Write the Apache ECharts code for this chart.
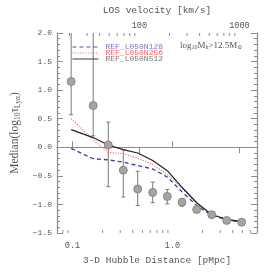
<!DOCTYPE html>
<html><head><meta charset="utf-8">
<script src="https://cdn.jsdelivr.net/npm/echarts@6/dist/echarts.min.js"></script>
<style>html,body{margin:0;padding:0;background:#fff}#c{width:274px;height:272px}</style>
</head><body><div id="c"></div>
<script>
// ---- data ----
const distances   = [0.097, 0.161, 0.228, 0.322, 0.449, 0.634, 0.887, 1.245, 1.746, 2.466, 3.483, 4.92];
const medianVals  = [1.15, 0.73, 0.04, -0.40, -0.73, -0.79, -0.86, -0.96, -1.09, -1.18, -1.28, -1.31];
const errLow      = [0.57, 0.20, -0.69, -0.87, -1.02, -0.97, -0.99, -1.03, -1.13, -1.21, -1.30, -1.33];
const errHigh     = [2.50, 2.50, 0.44, -0.04, -0.42, -0.61, -0.74, -0.90, -1.05, -1.15, -1.26, -1.29];
const lineN128    = [-0.02, -0.20, -0.22, -0.26, -0.32, -0.38, -0.52, -0.78, -1.02, -1.19, -1.27, -1.31];
const lineN256    = [0.50, 0.13, -0.09, -0.11, -0.19, -0.30, -0.47, -0.72, -0.98, -1.17, -1.26, -1.30];
const lineN512    = [0.31, 0.17, 0.04, -0.04, -0.10, -0.23, -0.41, -0.70, -0.97, -1.18, -1.26, -1.30];
const seriesNames = ['REF_L050N128', 'REF_L050N256', 'REF_L050N512'];
const distRange   = [0.07, 7];
const velRange    = [15, 1500];
const yRange      = [-1.5, 2.0];

// ---- styling ----
const frameColor = '#8c8c8c';
const textColor = '#555555';
const mono = '"Liberation Mono", "DejaVu Sans Mono", monospace';
const serif = '"Liberation Serif", "DejaVu Serif", serif';

function minorTicks(lo, hi) {
  const out = [];
  for (let k = Math.floor(Math.log10(lo)); k <= Math.ceil(Math.log10(hi)); k++) {
    for (let m = 2; m <= 9; m++) {
      const v = m * Math.pow(10, k);
      if (v > lo && v < hi) out.push([v, 0]);
    }
  }
  return out;
}

function tickRenderer(side) {
  return function (params, api) {
    const cs = params.coordSys;
    const x = api.coord([api.value(0), 0])[0];
    const len = 3;
    const y1 = side === 'top' ? cs.y : cs.y + cs.height;
    const y2 = side === 'top' ? cs.y + len : cs.y + cs.height - len;
    return { type: 'line', shape: { x1: x, y1: y1, x2: x, y2: y2 },
      style: { stroke: frameColor, lineWidth: 1 } };
  };
}

const chart = echarts.init(document.getElementById('c'), null, { renderer: 'canvas' });

const fmtDist = v => {
  const r = Math.round(v * 1000) / 1000;
  return r >= 1 ? r.toFixed(1) : String(r);
};
const fmtVel = v => String(Math.round(v));

const option = {
  backgroundColor: '#ffffff',
  animation: false,
  grid: { left: 57, top: 33, width: 200, height: 200, containLabel: false },
  xAxis: [
    {
      type: 'log', logBase: 10, min: distRange[0], max: distRange[1], position: 'bottom',
      axisLine: { show: true, lineStyle: { color: frameColor, width: 1.2 } },
      axisTick: { show: true, inside: true, length: 6, lineStyle: { color: frameColor } },
      axisLabel: { formatter: fmtDist, showMinLabel: false, showMaxLabel: false,
        fontFamily: mono, fontSize: 8.5, color: textColor, margin: 8 },
      splitLine: { show: false },
      name: '3-D Hubble Distance [pMpc]', nameLocation: 'middle', nameGap: 22,
      nameTextStyle: { fontFamily: mono, fontSize: 9.5, color: textColor }
    },
    {
      type: 'log', logBase: 10, min: velRange[0], max: velRange[1], position: 'top',
      axisLine: { show: true, lineStyle: { color: frameColor, width: 1.2 } },
      axisTick: { show: true, inside: true, length: 6, lineStyle: { color: frameColor } },
      axisLabel: { formatter: fmtVel, showMinLabel: false, showMaxLabel: false,
        fontFamily: mono, fontSize: 8.5, color: textColor, margin: 3 },
      splitLine: { show: false },
      name: 'LOS velocity [km/s]', nameLocation: 'middle', nameGap: 18,
      nameTextStyle: { fontFamily: mono, fontSize: 9.5, color: textColor }
    }
  ],
  yAxis: [
    {
      type: 'value', min: yRange[0], max: yRange[1], interval: 0.5, position: 'left',
      axisLine: { show: true, lineStyle: { color: frameColor, width: 1.2 } },
      axisTick: { show: true, inside: true, length: 6, lineStyle: { color: frameColor } },
      minorTick: { show: true, splitNumber: 5, length: 3, lineStyle: { color: frameColor } },
      axisLabel: { formatter: v => v.toFixed(1).replace('-', '\u2212'),
        fontFamily: mono, fontSize: 8, color: textColor, margin: 5 },
      splitLine: { show: false }, minorSplitLine: { show: false },
      name: 'Median(log{s|10}\u03c4{s|Ly\u03b1})', nameLocation: 'middle', nameGap: 31, nameRotate: 90,
      nameTextStyle: { fontFamily: serif, fontSize: 11.5, color: textColor,
        rich: { s: { fontFamily: serif, fontSize: 7.5, color: textColor, verticalAlign: 'bottom', padding: [6, 0, 0, 0] } } }
    },
    {
      type: 'value', min: yRange[0], max: yRange[1], interval: 0.5, position: 'right',
      axisLine: { show: true, lineStyle: { color: frameColor, width: 1.2 } },
      axisTick: { show: true, inside: true, length: 6, lineStyle: { color: frameColor } },
      minorTick: { show: true, splitNumber: 5, length: 3, lineStyle: { color: frameColor } },
      axisLabel: { show: false },
      splitLine: { show: false }, minorSplitLine: { show: false }
    }
  ],
  legend: {
    orient: 'vertical', left: 67, top: 38, itemGap: -2, itemWidth: 26, itemHeight: 5,
    itemStyle: { opacity: 0 },
    lineStyle: { width: 0.9 },
    data: [
      { name: seriesNames[0], textStyle: { color: '#7878c8' } },
      { name: seriesNames[1], textStyle: { color: '#ff5a5a' } },
      { name: seriesNames[2], textStyle: { color: '#777777' } }
    ],
    textStyle: { fontFamily: mono, fontSize: 8, lineHeight: 7, padding: [0, 0, 0, 2] },
    selectedMode: false
  },
  graphic: [
    {
      type: 'text', left: 180, top: 41,
      style: {
        text: '{a|log}{s|10}{a|M}{s|h}{a|>12.5M}{s|\u2299}',
        rich: {
          a: { fontFamily: serif, fontSize: 9, fill: textColor },
          s: { fontFamily: serif, fontSize: 6, fill: textColor, padding: [4, 0, 0, 0] }
        }
      }
    }
  ],
  series: [
    { type: 'custom', name: 'minorBottom', xAxisIndex: 0, yAxisIndex: 0, silent: true,
      data: minorTicks(distRange[0], distRange[1]), renderItem: tickRenderer('bottom'), z: 1 },
    { type: 'custom', name: 'minorTop', xAxisIndex: 1, yAxisIndex: 0, silent: true,
      data: minorTicks(velRange[0], velRange[1]), renderItem: tickRenderer('top'), z: 1 },
    {
      type: 'custom', name: 'errors', xAxisIndex: 0, yAxisIndex: 0, silent: true, z: 3,
      data: distances.map((d, i) => [d, errLow[i], errHigh[i]]),
      encode: { x: 0, y: [1, 2] },
      renderItem: function (params, api) {
        const cs = params.coordSys;
        const pLo = api.coord([api.value(0), api.value(1)]);
        const pHi = api.coord([api.value(0), api.value(2)]);
        const x = pLo[0];
        const yLo = Math.min(pLo[1], cs.y + cs.height);
        const clippedTop = pHi[1] < cs.y;
        const yHi = Math.max(pHi[1], cs.y);
        const cap = 2;
        const st = { stroke: '#7a7a7a', lineWidth: 1 };
        const children = [
          { type: 'line', shape: { x1: x, y1: yLo, x2: x, y2: yHi }, style: st },
          { type: 'line', shape: { x1: x - cap, y1: yLo, x2: x + cap, y2: yLo }, style: st }
        ];
        if (!clippedTop) children.push({ type: 'line', shape: { x1: x - cap, y1: yHi, x2: x + cap, y2: yHi }, style: st });
        return { type: 'group', children: children };
      }
    },
    { type: 'line', name: seriesNames[0], xAxisIndex: 0, yAxisIndex: 0, symbol: 'none', z: 4,
      data: distances.map((d, i) => [d, lineN128[i]]),
      lineStyle: { color: '#3c3ca8', width: 1.3, type: [4, 3] }, itemStyle: { color: '#3c3ca8' } },
    { type: 'line', name: seriesNames[1], xAxisIndex: 0, yAxisIndex: 0, symbol: 'none', z: 4,
      data: distances.map((d, i) => [d, lineN256[i]]),
      lineStyle: { color: '#ff4b4b', width: 1.1, type: [1, 1.6] }, itemStyle: { color: '#ff4b4b' } },
    { type: 'line', name: seriesNames[2], xAxisIndex: 0, yAxisIndex: 0, symbol: 'none', z: 4,
      data: distances.map((d, i) => [d, lineN512[i]]),
      lineStyle: { color: '#222222', width: 1.2, type: 'solid' }, itemStyle: { color: '#222222' } },
    { type: 'scatter', name: 'median', xAxisIndex: 0, yAxisIndex: 0, z: 5, silent: true,
      data: distances.map((d, i) => [d, medianVals[i]]), symbol: 'circle', symbolSize: 8,
      itemStyle: { color: '#a9a3a3', borderColor: '#7a7a7a', borderWidth: 0.8, opacity: 1 } }
  ]
};
chart.setOption(option);
</script>
</body></html>
